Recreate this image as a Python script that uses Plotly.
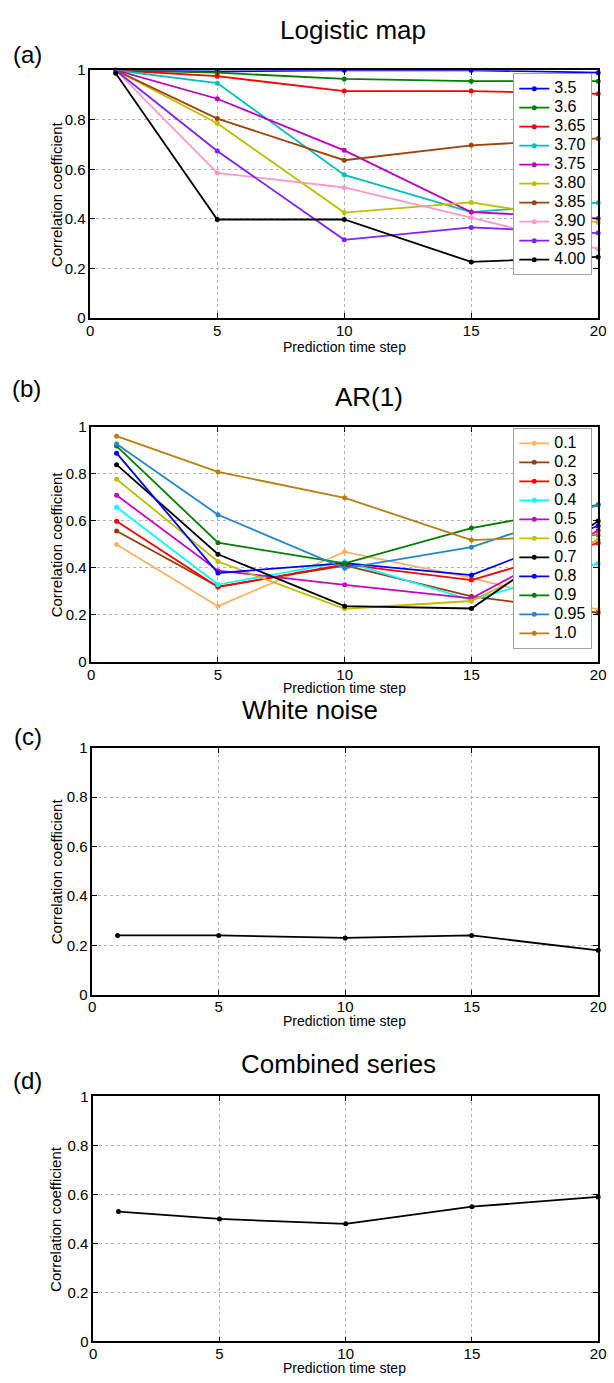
import plotly.graph_objects as go

steps = [1, 5, 10, 15, 20]

# Panel (a) Logistic map
logistic_labels = ["3.5", "3.6", "3.65", "3.70", "3.75", "3.80", "3.85", "3.90", "3.95", "4.00"]
logistic_colors = ["#0000ff", "#008000", "#ff0000", "#00bfbf", "#bf00bf", "#bfbf00",
                   "#a0420c", "#ff99c8", "#8020ff", "#000000"]
log_35 = [1.00, 0.995, 1.00, 1.00, 0.99]
log_36 = [1.00, 0.99, 0.965, 0.956, 0.956]
log_365 = [1.00, 0.976, 0.916, 0.916, 0.905]
log_370 = [1.00, 0.948, 0.578, 0.428, 0.466]
log_375 = [1.00, 0.885, 0.677, 0.428, 0.402]
log_380 = [1.00, 0.786, 0.426, 0.467, 0.386]
log_385 = [1.00, 0.805, 0.637, 0.697, 0.725]
log_390 = [1.00, 0.586, 0.527, 0.405, 0.279]
log_395 = [1.00, 0.674, 0.316, 0.366, 0.343]
log_400 = [0.988, 0.398, 0.398, 0.227, 0.247]
logistic_values = [log_35, log_36, log_365, log_370, log_375, log_380, log_385, log_390, log_395, log_400]

# Panel (b) AR(1)
ar_labels = ["0.1", "0.2", "0.3", "0.4", "0.5", "0.6", "0.7", "0.8", "0.9", "0.95", "1.0"]
ar_colors = ["#ffb266", "#993d0d", "#ff0000", "#00ffff", "#cc00cc", "#bfbf00",
             "#000000", "#0000ff", "#008000", "#2288cc", "#b8800f"]
ar_01 = [0.499, 0.237, 0.468, 0.357, 0.222]
ar_02 = [0.557, 0.320, 0.410, 0.279, 0.209]
ar_03 = [0.598, 0.318, 0.415, 0.348, 0.506]
ar_04 = [0.658, 0.329, 0.426, 0.263, 0.419]
ar_05 = [0.709, 0.388, 0.328, 0.270, 0.559]
ar_06 = [0.777, 0.427, 0.226, 0.259, 0.520]
ar_07 = [0.839, 0.458, 0.237, 0.227, 0.599]
ar_08 = [0.888, 0.378, 0.420, 0.369, 0.579]
ar_09 = [0.918, 0.507, 0.419, 0.569, 0.668]
ar_095 = [0.927, 0.626, 0.398, 0.488, 0.668]
ar_10 = [0.960, 0.808, 0.698, 0.518, 0.540]
ar_values = [ar_01, ar_02, ar_03, ar_04, ar_05, ar_06, ar_07, ar_08, ar_09, ar_095, ar_10]

# Panel (c) White noise
white_noise = [0.24, 0.24, 0.23, 0.24, 0.18]
# Panel (d) Combined series
combined = [0.53, 0.50, 0.48, 0.55, 0.59]

titles = ["Logistic map", "AR(1)", "White noise", "Combined series"]
panel_tags = ["(a)", "(b)", "(c)", "(d)"]
xtick_vals = [0, 5, 10, 15, 20]
ytick_vals = [0, 0.2, 0.4, 0.6, 0.8, 1]
ytick_text = ["0", "0.2", "0.4", "0.6", "0.8", "1"]

W = 614.0
H = 1383.0
# pixel geometry per panel: (left, right, top, bottom)
panels_px = [(88, 606, 62, 313), (89, 606, 423, 661), (90, 606, 748, 998), (91, 606, 1101, 1349)]

FONT = "Liberation Sans, Arial, Helvetica, sans-serif"

fig = go.Figure()

def ax_names(i):
    return ("x" if i == 0 else f"x{i+1}", "y" if i == 0 else f"y{i+1}")

for i, (l, r, t, b) in enumerate(panels_px):
    xa = "xaxis" if i == 0 else f"xaxis{i+1}"
    ya = "yaxis" if i == 0 else f"yaxis{i+1}"
    xn, yn = ax_names(i)
    fig.layout[xa] = dict(domain=[l / W, r / W], anchor=yn, range=[0, 20],
                          tickvals=xtick_vals, ticks="inside", ticklen=5, tickcolor="black",
                          showline=True, linecolor="black", linewidth=1.5, mirror="ticks",
                          showgrid=True, gridcolor="#b4b4b4", griddash="dot", gridwidth=1,
                          zeroline=False, tickfont=dict(size=15, color="black", family=FONT),
                          ticklabelstandoff=-2, ticklabeloverflow="allow", fixedrange=True)
    fig.layout[ya] = dict(domain=[1 - b / H, 1 - t / H], anchor=xn, range=[0, 1],
                          tickvals=ytick_vals, ticktext=ytick_text, ticks="inside", ticklen=5,
                          tickcolor="black",
                          showline=True, linecolor="black", linewidth=1.5, mirror="ticks",
                          showgrid=True, gridcolor="#b4b4b4", griddash="dot", gridwidth=1,
                          zeroline=False, tickfont=dict(size=15, color="black", family=FONT),
                          ticklabeloverflow="allow", fixedrange=True)

LEG_TXT = "<span style='font-size:16px'>{}</span>"

# traces panel (a)
for lab, col, vals in zip(logistic_labels, logistic_colors, logistic_values):
    fig.add_trace(go.Scatter(x=steps, y=vals, mode="lines+markers", name=LEG_TXT.format(lab),
                             line=dict(color=col, width=1.8), marker=dict(color=col, size=5),
                             xaxis="x", yaxis="y", legend="legend", cliponaxis=False))
# traces panel (b)
for lab, col, vals in zip(ar_labels, ar_colors, ar_values):
    fig.add_trace(go.Scatter(x=steps, y=vals, mode="lines+markers", name=LEG_TXT.format(lab),
                             line=dict(color=col, width=1.8), marker=dict(color=col, size=5),
                             xaxis="x2", yaxis="y2", legend="legend2", cliponaxis=False))
fig.add_trace(go.Scatter(x=steps, y=white_noise, mode="lines+markers", showlegend=False,
                         line=dict(color="black", width=1.8), marker=dict(color="black", size=5),
                         xaxis="x3", yaxis="y3", cliponaxis=False))
fig.add_trace(go.Scatter(x=steps, y=combined, mode="lines+markers", showlegend=False,
                         line=dict(color="black", width=1.8), marker=dict(color="black", size=5),
                         xaxis="x4", yaxis="y4", cliponaxis=False))

annotations = []
title_pos = [(356, 21), (372, 393), (312, 710), (341, 1068)]
tag_pos = [(24, 46), (23, 384), (24, 737), (24, 1085)]
xtitle_y = [342, 687, 1025, 1376]
for i, (l, r, t, b) in enumerate(panels_px):
    tx, ty = title_pos[i]
    annotations.append(dict(text=titles[i], x=tx / W, y=1 - ty / H, xref="paper", yref="paper",
                            xanchor="center", yanchor="middle", showarrow=False,
                            font=dict(size=26, color="black", family=FONT)))
    gx, gy = tag_pos[i]
    annotations.append(dict(text=panel_tags[i], x=gx / W, y=1 - gy / H, xref="paper", yref="paper",
                            xanchor="center", yanchor="middle", showarrow=False,
                            font=dict(size=24, color="black", family=FONT)))
    annotations.append(dict(text="Prediction time step", x=347 / W, y=1 - xtitle_y[i] / H,
                            xref="paper", yref="paper", xanchor="center", yanchor="middle",
                            showarrow=False, font=dict(size=14, color="black", family=FONT)))
    annotations.append(dict(text="Correlation coefficient", x=53 / W, y=1 - ((t + b) / 2) / H,
                            xref="paper", yref="paper", xanchor="center", yanchor="middle",
                            textangle=-90, showarrow=False,
                            font=dict(size=15, color="black", family=FONT)))

fig.update_layout(
    width=int(W), height=int(H),
    margin=dict(l=0, r=0, t=0, b=0),
    paper_bgcolor="white", plot_bgcolor="white",
    font=dict(family=FONT, color="black"),
    annotations=annotations,
    legend=dict(x=600 / W, y=1 - 65 / H, xanchor="right", yanchor="top",
                bgcolor="white", bordercolor="#a0a0a0", borderwidth=1,
                font=dict(size=12, color="black", family=FONT),
                itemwidth=30, tracegroupgap=0),
    legend2=dict(x=600 / W, y=1 - 424 / H, xanchor="right", yanchor="top",
                 bgcolor="white", bordercolor="#a0a0a0", borderwidth=1,
                 font=dict(size=12, color="black", family=FONT),
                 itemwidth=30, tracegroupgap=0),
)

fig.write_html(
    "out.html",
    config={"displayModeBar": False},
    post_script=(
        "document.documentElement.style.margin='0';document.body.style.margin='0';"
        "document.documentElement.style.overflow='hidden';document.body.style.overflow='hidden';"
        "var gd=document.getElementById('{plot_id}');gd.style.position='fixed';"
        "gd.style.top='0px';gd.style.left='0px';"
    ),
)
